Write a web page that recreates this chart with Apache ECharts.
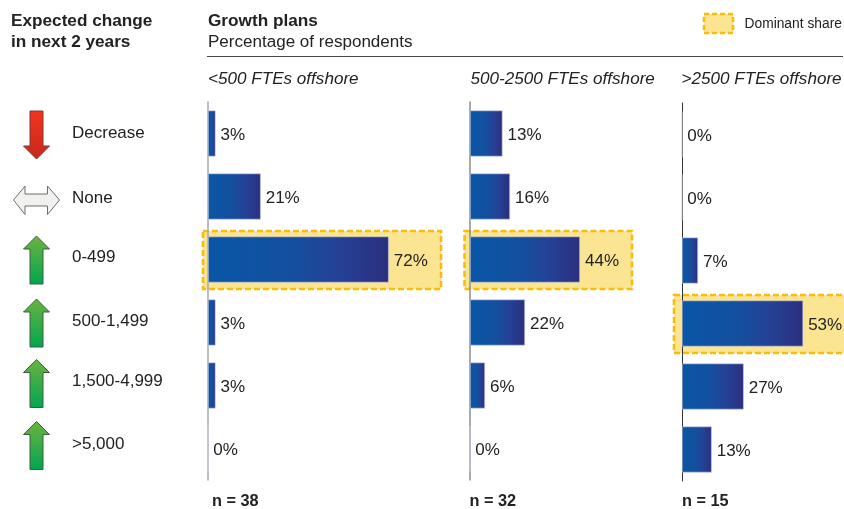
<!DOCTYPE html>
<html>
<head>
<meta charset="utf-8">
<style>html,body{margin:0;padding:0;background:#fff}#chart{width:844px;height:509px}</style>
<script src="https://cdn.jsdelivr.net/npm/echarts@6/dist/echarts.min.js"></script>
</head>
<body>
<div id="chart"></div>
<script>
// Growth plans by offshore headcount band
const categories = ['Decrease', 'None', '0-499', '500-1,499', '1,500-4,999', '>5,000'];
const bandNames = ['<500 FTEs offshore', '500-2500 FTEs offshore', '>2500 FTEs offshore'];
const smallBand = [3, 21, 72, 3, 3, 0];
const midBand = [13, 16, 44, 22, 6, 0];
const largeBand = [0, 0, 7, 53, 27, 13];
const sampleSizes = ['n = 38', 'n = 32', 'n = 15'];
const dominantRow = [2, 2, 3];

const FONT = '"Liberation Sans", Arial, sans-serif';
const INK = '#222222';

const barFill = {
  type: 'linear', x: 0, y: 0, x2: 1, y2: 0,
  colorStops: [
    { offset: 0, color: '#0a56a6' },
    { offset: 0.45, color: '#13509f' },
    { offset: 0.72, color: '#254196' },
    { offset: 1, color: '#2b2f7d' }
  ]
};

// Panel frames: axis position, plot width, value range and highlight overhang
const panels = [
  { values: smallBand, left: 208, width: 251, max: 100, top: 102, axis: '#a8a8a8', axisW: 1.5, pad: 5 },
  { values: midBand, left: 470, width: 200, max: 80, top: 102, axis: '#8c8c8c', axisW: 1.5, pad: 5.5 },
  { values: largeBand, left: 682, width: 160, max: 70, top: 103, axis: '#333333', axisW: 1, pad: 8 }
];

const grids = [], xAxes = [], yAxes = [], series = [];
panels.forEach((p, i) => {
  grids.push({ left: p.left, top: p.top, height: 378, width: p.width });
  xAxes.push({ gridIndex: i, type: 'value', min: 0, max: p.max, show: false });
  yAxes.push({
    gridIndex: i, type: 'category', inverse: true, data: categories,
    axisLabel: { show: false }, axisTick: { show: false },
    axisLine: { show: true, lineStyle: { color: p.axis, width: p.axisW } },
    z: 2
  });
  // Dashed highlight behind the dominant row, ending a fixed gap past the bar
  series.push({
    type: 'custom', xAxisIndex: i, yAxisIndex: i, z: 1, clip: false, silent: true,
    data: [[p.values[dominantRow[i]], dominantRow[i]]],
    renderItem(params, api) {
      const end = api.coord([api.value(0), api.value(1)]);
      const x0 = p.left - p.pad, x1 = Math.round(end[0]) + 52;
      return {
        type: 'rect',
        shape: { x: x0, y: Math.round(end[1]) - 29, width: x1 - x0, height: 58 },
        style: { fill: '#fce592', stroke: '#f9bc0d', lineWidth: 2.6, lineDash: [6, 3] }
      };
    }
  });
  series.push({
    type: 'bar', xAxisIndex: i, yAxisIndex: i, data: p.values, barWidth: 46, z: 3,
    itemStyle: { color: barFill, borderColor: '#c9d2e6', borderWidth: 0.6 },
    label: {
      show: true, position: 'right', distance: 5, offset: [0, 2], formatter: '{c}%',
      fontFamily: FONT, fontSize: 17, color: INK
    }
  });
});

// Row icons: direction arrows with a vertical gradient
const ARROW_DOWN = { fill: ['#f4331f', '#c8281a'], stroke: '#7a3a30' };
const ARROW_UP = { fill: ['#6cb33f', '#00a651'], stroke: '#3f5f3a' };

function vArrow(cx, top, bottom, up, look) {
  const head = 13, half = 13, shaft = 6.5;
  const pts = up
    ? [[cx, top], [cx + half, top + head], [cx + shaft, top + head], [cx + shaft, bottom], [cx - shaft, bottom], [cx - shaft, top + head], [cx - half, top + head]]
    : [[cx, bottom], [cx + half, bottom - head], [cx + shaft, bottom - head], [cx + shaft, top], [cx - shaft, top], [cx - shaft, bottom - head], [cx - half, bottom - head]];
  return {
    type: 'polygon', shape: { points: pts },
    style: {
      fill: { type: 'linear', x: 0, y: 0, x2: 0, y2: 1, colorStops: [{ offset: 0, color: look.fill[0] }, { offset: 1, color: look.fill[1] }] },
      stroke: look.stroke, lineWidth: 1
    }
  };
}

const arrowGraphics = [
  vArrow(36.5, 111, 159, false, ARROW_DOWN),
  {
    type: 'polygon',
    shape: { points: [[13.5, 200], [25, 186], [25, 194], [47.5, 194], [47.5, 186], [59.5, 200], [47.5, 214.5], [47.5, 206], [25, 206], [25, 214.5]] },
    style: { fill: '#f1f1f0', stroke: '#6f6f6f', lineWidth: 1 }
  },
  vArrow(36.5, 236, 284, true, ARROW_UP),
  vArrow(36.5, 299, 347, true, ARROW_UP),
  vArrow(36.5, 359.5, 407.5, true, ARROW_UP),
  vArrow(36.5, 421.5, 469.5, true, ARROW_UP)
];

function txt(x, y, text, opts) {
  return {
    type: 'text', x, y,
    style: Object.assign({ text, fontFamily: FONT, fontSize: 17, fill: INK, verticalAlign: 'middle' }, opts || {})
  };
}
const HEAD_BOLD = { fontWeight: 'bold', fontSize: 17.2 };
const ITALIC = { fontStyle: 'italic', fontSize: 17.1 };
const NOTE = { fontWeight: 'bold', fontSize: 16.3 };
const rowLabelY = [133, 198, 257, 321, 381, 444];

const chrome = [
  txt(11, 21.5, 'Expected change', HEAD_BOLD),
  txt(11, 42.5, 'in next 2 years', HEAD_BOLD),
  txt(208, 21.5, 'Growth plans', HEAD_BOLD),
  txt(208, 42.5, 'Percentage of respondents', { fontSize: 17.05 }),
  { type: 'line', shape: { x1: 207, y1: 56.5, x2: 843, y2: 56.5 }, style: { stroke: '#444', lineWidth: 1 } },
  txt(208, 79.5, bandNames[0], ITALIC),
  txt(470.5, 79.5, bandNames[1], ITALIC),
  txt(681.5, 79.5, bandNames[2], ITALIC),
  {
    type: 'rect', shape: { x: 704, y: 14, width: 29, height: 19 },
    style: { fill: '#fce592', stroke: '#f9bc0d', lineWidth: 2.6, lineDash: [5, 3] }
  },
  txt(744.5, 24.5, 'Dominant share', { fontSize: 13.8 }),
  txt(212, 502, sampleSizes[0], NOTE),
  txt(469.5, 502, sampleSizes[1], NOTE),
  txt(682, 502, sampleSizes[2], NOTE)
].concat(categories.map((c, i) => txt(72, rowLabelY[i], c, { fontSize: 17 })));

const chart = echarts.init(document.getElementById('chart'), null, { renderer: 'canvas' });
chart.setOption({
  animation: false,
  backgroundColor: '#ffffff',
  grid: grids, xAxis: xAxes, yAxis: yAxes, series,
  graphic: { elements: arrowGraphics.concat(chrome) }
});
</script>
</body>
</html>
